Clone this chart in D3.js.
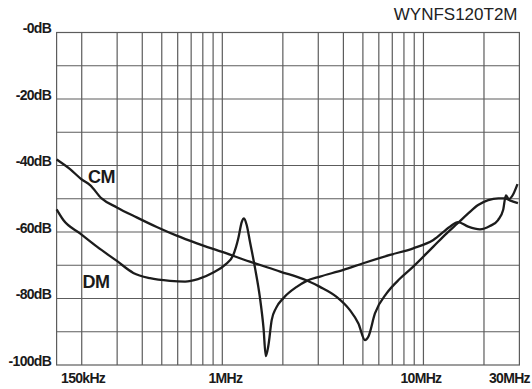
<!DOCTYPE html>
<html>
<head>
<meta charset="utf-8">
<script src="https://cdn.jsdelivr.net/npm/d3@7"></script>
<style>
  body { margin: 0; background: #fff; }
  svg { display: block; font-family: "Liberation Sans", Arial, sans-serif; }
  .lbl { font-weight: bold; font-size: 14px; letter-spacing: -0.7px; fill: #1a1a1a; }
</style>
</head>
<body>
<svg width="532" height="389"></svg>
<script>
// frequencies in MHz, attenuation in dB
const cmFreq = [0.150, 0.175, 0.200, 0.220, 0.251, 0.299, 0.375, 0.472, 0.593, 0.748, 1.00, 1.37, 1.94, 2.63, 3.06, 3.70, 4.31, 4.75, 5.12, 5.32, 5.74, 6.57, 7.65, 8.90, 11.2, 13.05, 14.85, 16.7, 18.7, 21.0, 23.6, 25.4, 26.9, 29.5];
const cmDb   = [-38.2, -41.1, -44.2, -45.9, -49.9, -52.6, -55.6, -58.5, -61.1, -63.4, -66.0, -68.9, -71.9, -74.6, -76.5, -79.5, -83.5, -87.5, -92.5, -91.5, -84.5, -78.4, -74.0, -70.4, -64.4, -60.4, -57.3, -54.4, -51.9, -50.4, -49.9, -49.9, -50.5, -51.3];

const dmFreq = [0.150, 0.162, 0.196, 0.238, 0.299, 0.361, 0.437, 0.550, 0.653, 0.757, 0.902, 1.031, 1.134, 1.201, 1.249, 1.282, 1.322, 1.373, 1.454, 1.539, 1.603, 1.645, 1.693, 1.760, 1.849, 2.011, 2.344, 2.629, 3.06, 4.00, 5.02, 6.82, 8.90, 11.2, 13.55, 14.85, 16.7, 19.1, 21.4, 23.5, 24.9, 25.7, 26.6, 27.55, 29.35];
const dmDb   = [-53.2, -56.4, -60.4, -64.4, -68.7, -72.3, -73.9, -74.7, -74.9, -74.2, -72.2, -69.9, -66.9, -61.9, -57.0, -55.9, -57.9, -63.0, -70.8, -79.8, -88.9, -97.3, -94.3, -86.5, -82.9, -79.9, -76.5, -74.7, -73.4, -71.4, -69.4, -66.9, -64.9, -62.4, -58.4, -57.0, -58.4, -59.2, -58.2, -56.4, -53.4, -49.0, -50.1, -49.3, -45.6];

const gridFreqs = [0.2, 0.3, 0.4, 0.5, 0.6, 0.7, 0.8, 0.9, 1, 2, 3, 4, 5, 6, 7, 8, 9, 10, 20];
const gridDb = d3.range(-90, 0, 10);

const xTickValues = [0.15, 1, 10, 30];
const xTickLabels = ["150kHz", "1MHz", "10MHz", "30MHz"];
const yTickValues = [0, -20, -40, -60, -80, -100];
const yTickLabels = ["-0dB", "-20dB", "-40dB", "-60dB", "-80dB", "-100dB"];

const seriesNames = ["CM", "DM"];
const labelFreq = [0.215, 0.2018];
const labelDb = [-45.4, -76.9];

const title = "WYNFS120T2M";

const plotLeft = 56.6, plotRight = 519.4, plotTop = 32.5, plotBottom = 365;

const svg = d3.select("svg");

const x = d3.scaleLog().domain([0.15, 30]).range([plotLeft, plotRight]);
const y = d3.scaleLinear().domain([-100, 0]).range([plotBottom, plotTop]);

// grid
svg.append("g")
  .selectAll("line")
  .data(gridFreqs)
  .join("line")
    .attr("x1", d => x(d)).attr("x2", d => x(d))
    .attr("y1", plotTop).attr("y2", plotBottom)
    .attr("stroke", "#5c5c5c").attr("stroke-width", 1.2);

svg.append("g")
  .selectAll("line")
  .data(gridDb)
  .join("line")
    .attr("x1", plotLeft).attr("x2", plotRight)
    .attr("y1", d => y(d)).attr("y2", d => y(d))
    .attr("stroke", "#5c5c5c").attr("stroke-width", 1.2);

svg.append("rect")
  .attr("x", plotLeft).attr("y", plotTop)
  .attr("width", plotRight - plotLeft).attr("height", plotBottom - plotTop)
  .attr("fill", "none").attr("stroke", "#5c5c5c").attr("stroke-width", 1.2);

// curves
const line = d3.line()
  .x(d => x(d[0]))
  .y(d => y(d[1]))
  .curve(d3.curveMonotoneX);

const series = [d3.zip(cmFreq, cmDb), d3.zip(dmFreq, dmDb)];

svg.append("g")
  .selectAll("path")
  .data(series)
  .join("path")
    .attr("fill", "none")
    .attr("stroke", "#1c1c1c")
    .attr("stroke-width", 2.3)
    .attr("stroke-linejoin", "round")
    .attr("d", line);

// series labels
svg.append("g")
  .selectAll("text")
  .data(seriesNames)
  .join("text")
    .attr("x", (d, i) => x(labelFreq[i]))
    .attr("y", (d, i) => y(labelDb[i]))
    .attr("font-size", 18)
    .attr("font-weight", "bold")
    .attr("letter-spacing", "-0.6px")
    .attr("fill", "#1a1a1a")
    .text(d => d);

// y labels
svg.append("g")
  .selectAll("text")
  .data(yTickValues)
  .join("text")
    .attr("class", "lbl")
    .attr("x", plotLeft - 5.5)
    .attr("y", d => y(d) + 0.5)
    .attr("text-anchor", "end")
    .text((d, i) => yTickLabels[i]);

// x labels
const xAnchor = ["start", "middle", "middle", "end"];
const xShift = [4.5, 3, -2.5, 10.5];
svg.append("g")
  .selectAll("text")
  .data(xTickValues)
  .join("text")
    .attr("class", "lbl")
    .attr("x", (d, i) => x(d) + xShift[i])
    .attr("y", 382.5)
    .attr("text-anchor", (d, i) => xAnchor[i])
    .text((d, i) => xTickLabels[i]);

svg.append("text")
  .attr("x", 517.5)
  .attr("y", 20.4)
  .attr("text-anchor", "end")
  .attr("font-size", 17)
  .attr("fill", "#222")
  .text(title);
</script>
</body>
</html>
